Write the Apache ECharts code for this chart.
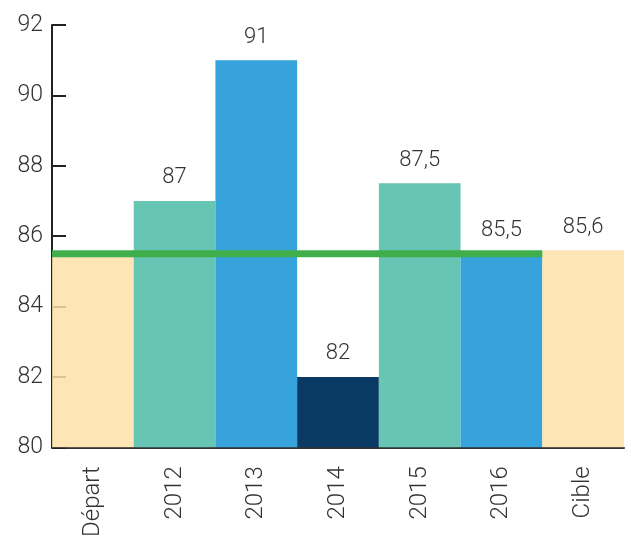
<!DOCTYPE html>
<html><head><meta charset="utf-8">
<script src="https://cdn.jsdelivr.net/npm/echarts@6/dist/echarts.min.js"></script>
<style>html,body{margin:0;padding:0;background:#fff}#c{width:631px;height:540px}</style>
</head><body><div id="c"></div>
<script>
const categories = ['Départ','2012','2013','2014','2015','2016','Cible'];
const values = [85.5, 87, 91, 82, 87.5, 85.5, 85.6];
const showLabel = [false, true, true, true, true, true, true];
const barColors = ['rgba(253,224,168,0.85)','#66c5b3','#36a3dc','#0a3a63','#66c5b3','#36a3dc','rgba(253,224,168,0.85)'];
const refLineValue = 85.5;
const refLineFrom = 0, refLineTo = 6;
const yTicks = [80,82,84,86,88,90,92];

const FONT = 'Roboto, "Liberation Sans", sans-serif';
const chart = echarts.init(document.getElementById('c'));
chart.setOption({
  animation: false,
  grid: {left: 52, right: 7, top: 25, bottom: 88},
  xAxis: [{
    type: 'category', data: categories, boundaryGap: true,
    axisLine: {show: true, lineStyle: {color: '#333', width: 2}},
    axisTick: {show: false},
    axisLabel: {rotate: 90, margin: 19, color: '#333', fontFamily: FONT, fontWeight: 300, fontSize: 24}
  }, {
    type: 'value', min: 0, max: 7, show: false
  }],
  yAxis: {
    type: 'value', min: yTicks[0], max: yTicks[yTicks.length-1], interval: 2,
    splitLine: {show: false},
    axisLine: {show: true, lineStyle: {color: '#222', width: 2}},
    axisTick: {show: true, inside: true, length: 14, lineStyle: {color: '#222', width: 2}},
    axisLabel: {margin: 9, color: '#333', fontFamily: FONT, fontWeight: 300, fontSize: 23}
  },
  series: [{
    type: 'bar', xAxisIndex: 0, barCategoryGap: '0%',
    data: values.map((v,i)=>({value: v, itemStyle: {color: barColors[i]},
      label: {show: showLabel[i]}})),
    label: {position: 'top', distance: 12, color: '#333', fontFamily: FONT, fontWeight: 300, fontSize: 22,
      formatter: p => String(p.value).replace('.', ',')}
  }, {
    type: 'line', xAxisIndex: 1, symbol: 'none', z: 5,
    lineStyle: {color: '#3fae4b', width: 7},
    data: [[refLineFrom, refLineValue], [refLineTo, refLineValue]]
  }]
});
</script></body></html>
